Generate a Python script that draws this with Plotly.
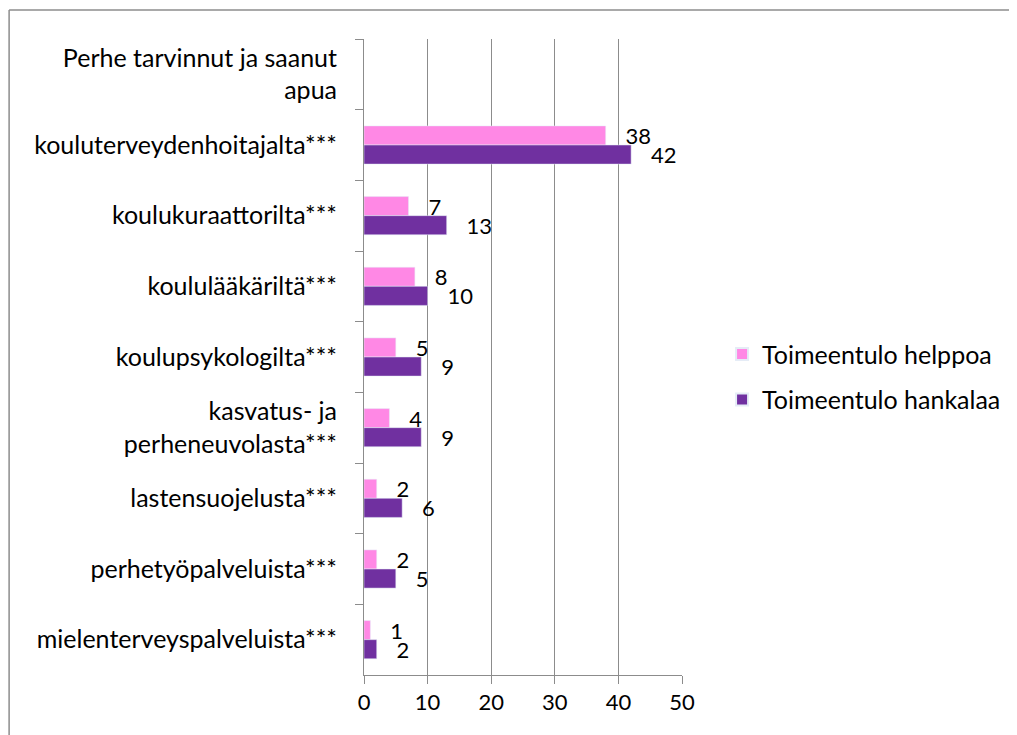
import plotly.graph_objects as go

# categories, top to bottom
categories = [
    "Perhe tarvinnut ja saanut<br>apua",
    "kouluterveydenhoitajalta***",
    "koulukuraattorilta***",
    "koululääkäriltä***",
    "koulupsykologilta***",
    "kasvatus- ja<br>perheneuvolasta***",
    "lastensuojelusta***",
    "perhetyöpalveluista***",
    "mielenterveyspalveluista***",
]
helppoa = [None, 38, 7, 8, 5, 4, 2, 2, 1]
hankalaa = [None, 42, 13, 10, 9, 9, 6, 5, 2]
series_names = ["Toimeentulo helppoa", "Toimeentulo hankalaa"]
x_ticks = [0, 10, 20, 30, 40, 50]

font = "Lato, 'Noto Sans', sans-serif"
grid = "#8c8c8c"
num_font = dict(size=22, color="black", family=font)

fig = go.Figure()
fig.add_trace(go.Bar(y=categories, x=helppoa, name=series_names[0], orientation="h",
                     marker_color="#FF88E5", texttemplate="   %{x}", legendgroup="a",
                     textposition="outside", cliponaxis=False, constraintext="none",
                     textfont=num_font))
fig.add_trace(go.Bar(y=categories, x=hankalaa, name=series_names[1], orientation="h",
                     marker_color="#7030A0", texttemplate="   %{x}", legendgroup="b",
                     textposition="outside", cliponaxis=False, constraintext="none",
                     textfont=num_font))

# the page body adds an 8 px offset, so margins are shifted by 8
fig.update_layout(
    width=1017, height=735,
    margin=dict(l=356, r=343, t=31, b=68),
    paper_bgcolor="white", plot_bgcolor="white",
    barmode="group", bargap=0.46, bargroupgap=0,
    font=dict(family=font, size=25, color="black"),
    showlegend=True,
    legend=dict(x=1.126, y=0.469, yanchor="middle", xanchor="left",
                font=dict(size=25), traceorder="grouped", tracegroupgap=10,
                itemsizing="constant"),
    xaxis=dict(range=[0, 50], tickvals=x_ticks, showgrid=True, gridcolor=grid,
               gridwidth=1, zeroline=False, showline=True, linecolor=grid,
               ticks="outside", ticklen=8, tickcolor=grid, tickfont=dict(size=22)),
    yaxis=dict(autorange="reversed", type="category", showline=True, linecolor=grid,
               ticks="outside", ticklen=8, tickcolor=grid, tickson="boundaries",
               showgrid=False, ticklabelstandoff=21),
    shapes=[
        dict(type="line", xref="paper", yref="paper", x0=-1.116, x1=2.2,
             y0=1.0456, y1=1.0456, line=dict(color=grid, width=1.5)),
        dict(type="line", xref="paper", yref="paper", x0=-1.116, x1=-1.116,
             y0=1.0456, y1=-0.2, line=dict(color=grid, width=1.5)),
    ],
)

fig.write_html("out.html")
